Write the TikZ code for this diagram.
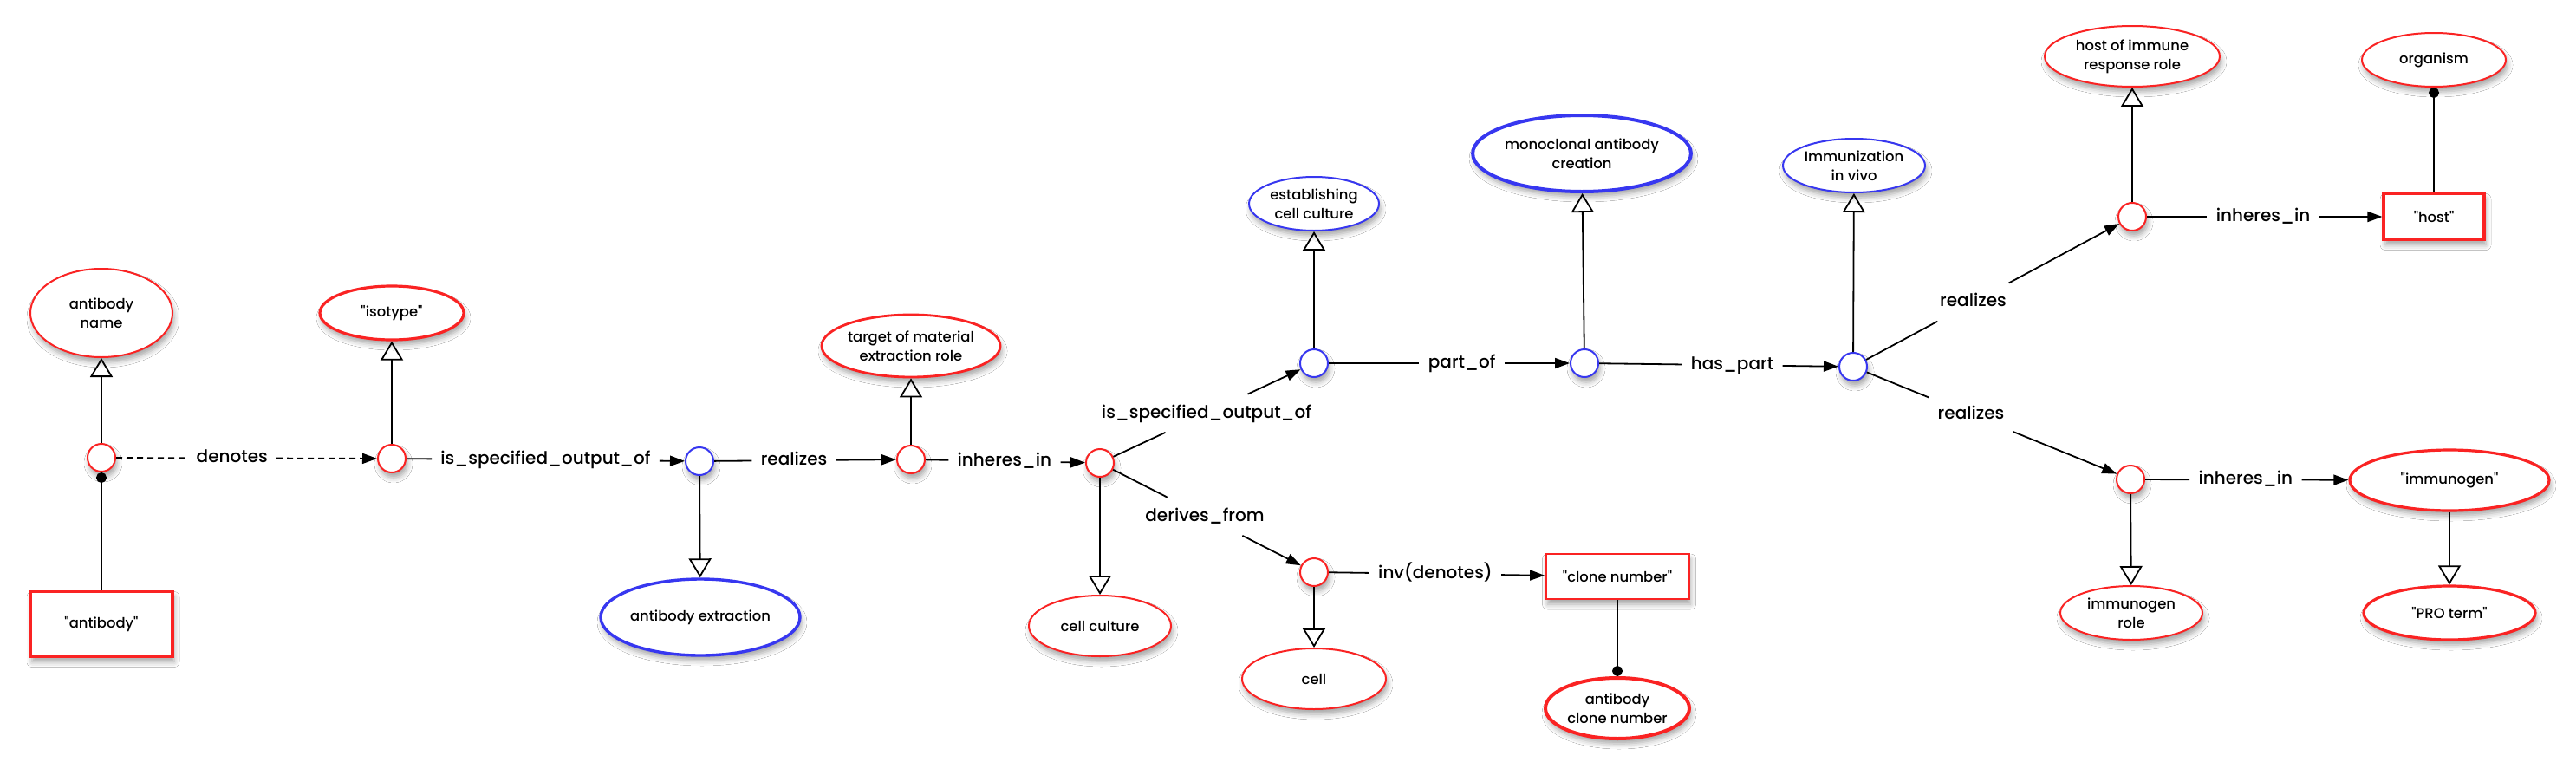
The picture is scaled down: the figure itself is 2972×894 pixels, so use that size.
\documentclass[tikz,border=0pt]{standalone}
\usepackage{fontspec}
\setmainfont{Poppins}[UprightFont=* Medium]
\usetikzlibrary{shapes.geometric,arrows.meta,calc,shadows.blur}
\definecolor{nodered}{RGB}{250,35,35}
\definecolor{nodeblue}{RGB}{55,55,240}
\newcommand{\dq}{\textquotedbl}
\begin{document}
\begin{tikzpicture}[x=0.5pt,y=-0.5pt,
  shad/.style={blur shadow={shadow xshift=1pt,shadow yshift=-3pt,shadow blur radius=3pt,shadow opacity=35}},
  cls/.style={ellipse,draw,fill=white,inner sep=0pt,align=center,font=\fontsize{8.2}{11}\selectfont,shad},
  redn/.style={cls,draw=nodered},
  bluen/.style={cls,draw=nodeblue},
  inst/.style={rectangle,draw=nodered,fill=white,inner sep=0pt,font=\fontsize{8.2}{11}\selectfont,shad},
  rc/.style={circle,draw=nodered,fill=white,line width=1pt,minimum size=16pt,inner sep=0pt,shad},
  bc/.style={circle,draw=nodeblue,fill=white,line width=1pt,minimum size=16pt,inner sep=0pt,shad},
  lbl/.style={inner xsep=5pt,inner ysep=6pt,text height=7.5pt,text depth=2.2pt,font=\fontsize{10}{12}\selectfont},
  ln/.style={line width=0.9pt},
  isa/.style={ln,-{Triangle[open,length=11pt,width=13pt]}},
  rel/.style={ln,-{Triangle[length=8.5pt,width=6pt]}},
  dotend/.style={ln,-{Circle[length=6pt]}},
  dsh/.style={dash pattern=on 3.5pt off 2.5pt}
]
\fill[white] (0,0) rectangle (2972,894);
\useasboundingbox (0,0) rectangle (2972,894);

% class / instance nodes
\node[redn,line width=1pt,minimum width=82pt,minimum height=51pt] (nAbName) at (117,361) {antibody\\name};
\node[redn,line width=1.6pt,minimum width=83pt,minimum height=31pt] (nIso) at (452,361) {\dq isotype\dq};
\node[inst,line width=1.6pt,minimum width=82pt,minimum height=37.5pt] (bAb) at (117,720) {\dq antibody\dq};
\node[bluen,line width=1.7pt,minimum width=115pt,minimum height=44pt] (nExtr) at (808,712) {antibody extraction};
\node[redn,line width=1.4pt,minimum width=102pt,minimum height=36pt] (nTarget) at (1051,399) {target of material\\extraction role};
\node[redn,line width=1pt,minimum width=82pt,minimum height=35pt] (nCellCult) at (1269,722) {cell culture};
\node[bluen,line width=1pt,minimum width=75pt,minimum height=31pt] (nEstab) at (1516,235) {establishing\\cell culture};
\node[bluen,line width=2pt,minimum width=123pt,minimum height=44pt] (nMono) at (1825,177) {monoclonal antibody\\creation};
\node[bluen,line width=1pt,minimum width=82pt,minimum height=31pt] (nImm) at (2139,191) {Immunization\\in vivo};
\node[redn,line width=1pt,minimum width=83pt,minimum height=35pt] (nCell) at (1516,783) {cell};
\node[inst,line width=1.4pt,minimum width=82.5pt,minimum height=26pt] (bClone) at (1866,665) {\dq clone number\dq};
\node[redn,line width=2pt,minimum width=83pt,minimum height=35pt] (nCloneNum) at (1866,817) {antibody\\clone number};
\node[redn,line width=1pt,minimum width=101pt,minimum height=35pt] (nHostRole) at (2460,65) {host of immune\\response role};
\node[redn,line width=1pt,minimum width=83pt,minimum height=31pt] (nOrg) at (2808,69) {organism};
\node[inst,line width=1.6pt,minimum width=58pt,minimum height=26.5pt] (bHost) at (2808,250) {\dq host\dq};
\node[redn,line width=1.6pt,minimum width=115pt,minimum height=35pt] (nImmunogen) at (2826,554) {\dq immunogen\dq};
\node[redn,line width=1pt,minimum width=82pt,minimum height=31pt] (nImmRole) at (2459,707) {immunogen\\role};
\node[redn,line width=1.6pt,minimum width=99pt,minimum height=31pt] (nPRO) at (2826,707) {\dq PRO term\dq};

% relation circles
\node[rc] (c1) at (117,528) {};
\node[rc] (c2) at (452,529) {};
\node[bc] (c3) at (807,532) {};
\node[rc] (c4) at (1051,530) {};
\node[rc] (c5) at (1269,534) {};
\node[bc] (c6) at (1516,419) {};
\node[bc] (c7) at (1828,419) {};
\node[rc] (c8) at (1516,660) {};
\node[bc] (c9) at (2138,423) {};
\node[rc] (c10) at (2460,250) {};
\node[rc] (c11) at (2458,553) {};

% edge labels
\node[lbl] (l1) at ($(c1)!0.45!(c2)$) {denotes};
\node[lbl] (l2) at ($(c2)!0.5!(c3)$) {is\_specified\_output\_of};
\node[lbl] (l3) at ($(c3)!0.447!(c4)$) {realizes};
\node[lbl] (l4) at ($(c4)!0.495!(c5)$) {inheres\_in};
\node[lbl] (l5) at ($(c5)!0.498!(c6)$) {is\_specified\_output\_of};
\node[lbl] (l6) at ($(c5)!0.49!(c8)$) {derives\_from};
\node[lbl] (l7) at ($(c6)!0.547!(c7)$) {part\_of};
\node[lbl] (l8) at ($(c7)!0.55!(c9)$) {has\_part};
\node[lbl] (l9) at ($(c8)!0.40!(bClone)$) {inv(denotes)};
\node[lbl] (l10) at ($(c9)!0.43!(c10)$) {realizes};
\node[lbl] (l11) at ($(c9)!0.425!(c11)$) {realizes};
\node[lbl] (l12) at ($(c10)!0.434!(bHost)$) {inheres\_in};
\node[lbl] (l13) at ($(c11)!0.361!(nImmunogen)$) {inheres\_in};

% is_a links
\draw[isa] (c1) -- (nAbName);
\draw[isa] (c2) -- (nIso);
\draw[isa] (c3) -- (nExtr);
\draw[isa] (c4) -- (nTarget);
\draw[isa] (c5) -- (nCellCult);
\draw[isa] (c6) -- (nEstab);
\draw[isa] (c7) -- (nMono);
\draw[isa] (c8) -- (nCell);
\draw[isa] (c9) -- (nImm);
\draw[isa] (c10) -- (nHostRole);
\draw[isa] (c11) -- (nImmRole);
\draw[isa] (nImmunogen) -- (nPRO);

% dot links
\draw[dotend] (bAb) -- (c1);
\draw[dotend] (bClone) -- (nCloneNum);
\draw[dotend] (bHost) -- (nOrg);

% labelled relations
\draw[ln,dsh] (c1) -- (l1);
\draw[rel,dsh] (l1) -- (c2);
\draw[ln] (c2) -- (l2);  \draw[rel] (l2) -- (c3);
\draw[ln] (c3) -- (l3);  \draw[rel] (l3) -- (c4);
\draw[ln] (c4) -- (l4);  \draw[rel] (l4) -- (c5);
\draw[ln] (c5) -- (l5);  \draw[rel] (l5) -- (c6);
\draw[ln] (c5) -- (l6);  \draw[rel] (l6) -- (c8);
\draw[ln] (c6) -- (l7);  \draw[rel] (l7) -- (c7);
\draw[ln] (c7) -- (l8);  \draw[rel] (l8) -- (c9);
\draw[ln] (c8) -- (l9);  \draw[rel] (l9) -- (bClone);
\draw[ln] (c9) -- (l10); \draw[rel] (l10) -- (c10);
\draw[ln] (c9) -- (l11); \draw[rel] (l11) -- (c11);
\draw[ln] (c10) -- (l12); \draw[rel] (l12) -- (bHost);
\draw[ln] (c11) -- (l13); \draw[rel] (l13) -- (nImmunogen);
\end{tikzpicture}
\end{document}
